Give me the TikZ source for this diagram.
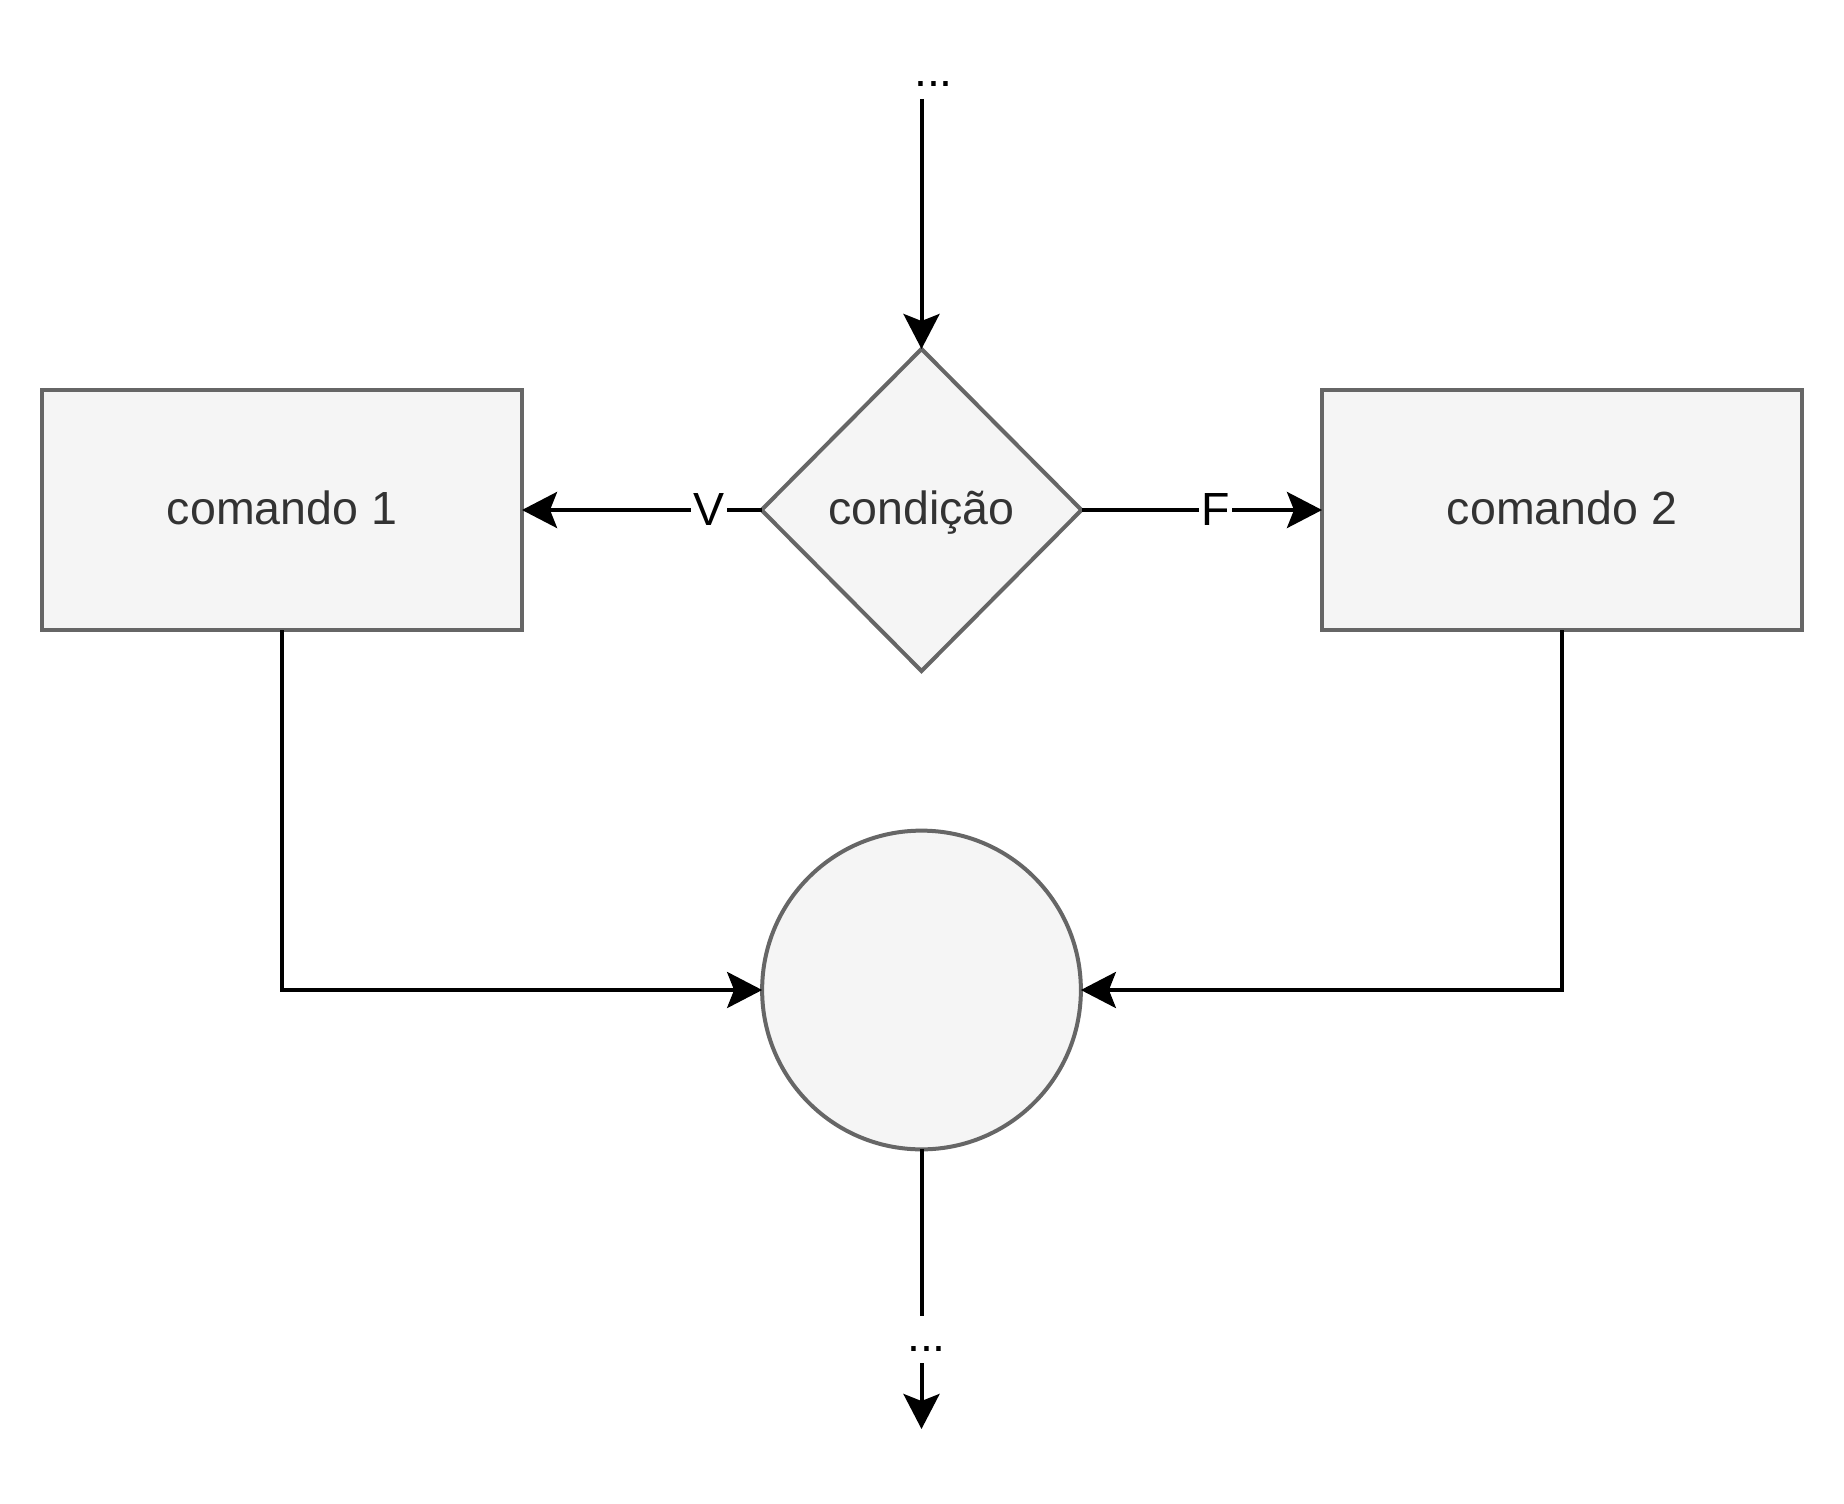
\documentclass[tikz,border=0pt]{standalone}
\usepackage{fontspec}
\setmainfont{Liberation Sans}
\usetikzlibrary{arrows.meta,shapes.geometric}
\definecolor{boxfill}{HTML}{F5F5F5}
\definecolor{boxline}{HTML}{666666}
\definecolor{boxtext}{HTML}{333333}
\tikzset{
    base/.style={draw=boxline, fill=boxfill, text=boxtext, line width=1.6pt, inner sep=0pt, outer sep=0pt,
        text height=14.9pt, text depth=3.7pt},
    cmd/.style={base, rectangle, minimum width=192pt, minimum height=96pt},
    cond/.style={base, diamond, aspect=1, minimum width=128pt, minimum height=128.8pt},
    joint/.style={base, circle, minimum size=127.5pt},
    flow/.style={line width=1.6pt, -{Stealth[length=14pt, width=14.4pt, inset=2.8pt]}},
    lbl/.style={fill=white, text=black, inner sep=1pt},
    dots/.style={text=black, inner sep=0pt, text height=14pt, text depth=4.65pt}
}
\begin{document}
\begin{tikzpicture}[x=0.4pt, y=-0.4pt, font=\fontsize{18.6}{22}\selectfont]
    \useasboundingbox (0,0) rectangle (1844,1504);
    % blocos
    \node[cmd] (cmdA) at (282,510) {comando 1};
    \node[cmd] (cmdB) at (1562,510) {comando 2};
    \node[cond] (test) at (921.5,510) {condição};
    \node[joint] (join) at (921.5,990) {};
    \node[dots] (top) at (933.5,75) {...};
    \coordinate (out) at (921.5,1429);
    % ligacoes
    \draw[flow] (top.south -| test.north) -- (test.north);
    \draw[flow] (test.west) -- node[lbl, pos=0.22] {V} (cmdA.east);
    \draw[flow] (test.east) -- node[lbl, pos=0.556] {F} (cmdB.west);
    \draw[flow] (cmdA.south) |- (join.west);
    \draw[flow] (cmdB.south) |- (join.east);
    \draw[flow] (join.south) -- node[dots, fill=white, pos=0.68, xshift=2pt] {...} (out);
\end{tikzpicture}
\end{document}
